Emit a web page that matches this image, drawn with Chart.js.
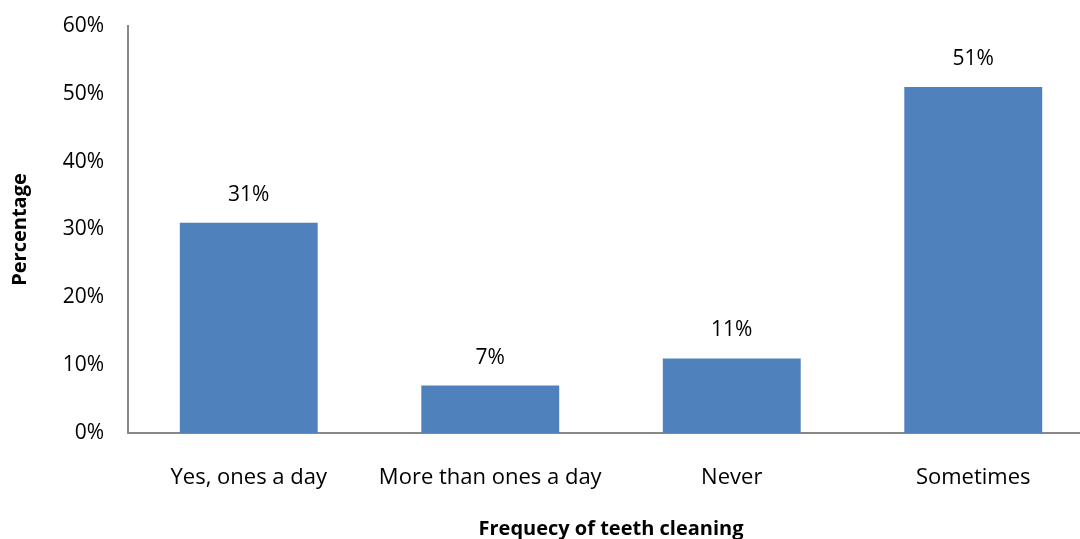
<!DOCTYPE html>
<html>
<head>
<meta charset="utf-8">
<script src="https://cdn.jsdelivr.net/npm/chart.js@4/dist/chart.umd.min.js"></script>
<style>
  html, body { margin: 0; padding: 0; background: #fff; overflow: hidden; }
  #wrap { width: 1094px; height: 539px; }
</style>
</head>
<body>
<div id="wrap"><canvas id="teethChart" width="1094" height="539"></canvas></div>
<script>
// chart values
const categories = ['Yes, ones a day', 'More than ones a day', 'Never', 'Sometimes'];
const percentValues = [31, 7, 11, 51];
const yTicks = [0, 10, 20, 30, 40, 50, 60];

const FONT = '"Open Sans", "DejaVu Sans", sans-serif';

// small plugin to write the value above each bar
const barLabels = {
    id: 'barLabels',
    afterDatasetsDraw(chart) {
        const ctx = chart.ctx;
        const meta = chart.getDatasetMeta(0);
        ctx.save();
        ctx.font = '21px ' + FONT;
        ctx.fillStyle = '#000';
        ctx.textAlign = 'center';
        ctx.textBaseline = 'middle';
        meta.data.forEach((bar, i) => {
            ctx.fillText(percentValues[i] + '%', bar.x, bar.y - 28);
        });
        ctx.restore();
    }
};

const ctx = document.getElementById('teethChart').getContext('2d');
new Chart(ctx, {
    type: 'bar',
    data: {
        labels: categories,
        datasets: [{
            data: percentValues,
            backgroundColor: '#4f81bd',
            borderWidth: 0,
            categoryPercentage: 1,
            barPercentage: 0.571
        }]
    },
    options: {
        responsive: false,
        animation: false,
        layout: { padding: { top: 26, right: 0, left: 0, bottom: 0 } },
        plugins: {
            legend: { display: false },
            tooltip: { enabled: false }
        },
        scales: {
            x: {
                grid: { display: false, drawTicks: false },
                border: { display: true, color: '#888', width: 2 },
                ticks: {
                    color: '#000',
                    font: { family: FONT, size: 22 },
                    padding: 32
                },
                title: {
                    display: true,
                    text: 'Frequecy of teeth cleaning',
                    color: '#000',
                    font: { family: FONT, size: 20, weight: 'bold', lineHeight: 1.0 },
                    padding: { top: 10, bottom: 0 }
                },
                afterFit(scale) { scale.height = 106; }
            },
            y: {
                min: 0,
                max: 60,
                afterBuildTicks(scale) {
                    scale.ticks = yTicks.map(v => ({ value: v }));
                },
                grid: { display: false, drawTicks: false },
                border: { display: true, color: '#888', width: 2 },
                ticks: {
                    color: '#000',
                    font: { family: FONT, size: 21 },
                    padding: 24,
                    callback: v => v + '%'
                },
                title: {
                    display: true,
                    text: 'Percentage',
                    color: '#000',
                    font: { family: FONT, size: 20, weight: 'bold' },
                    padding: { top: 8, bottom: 0 }
                },
                afterFit(scale) {
                    scale.width = 128;
                    scale.paddingTop = 0;
                    scale.paddingBottom = 0;
                }
            }
        }
    },
    plugins: [barLabels]
});
</script>
</body>
</html>
